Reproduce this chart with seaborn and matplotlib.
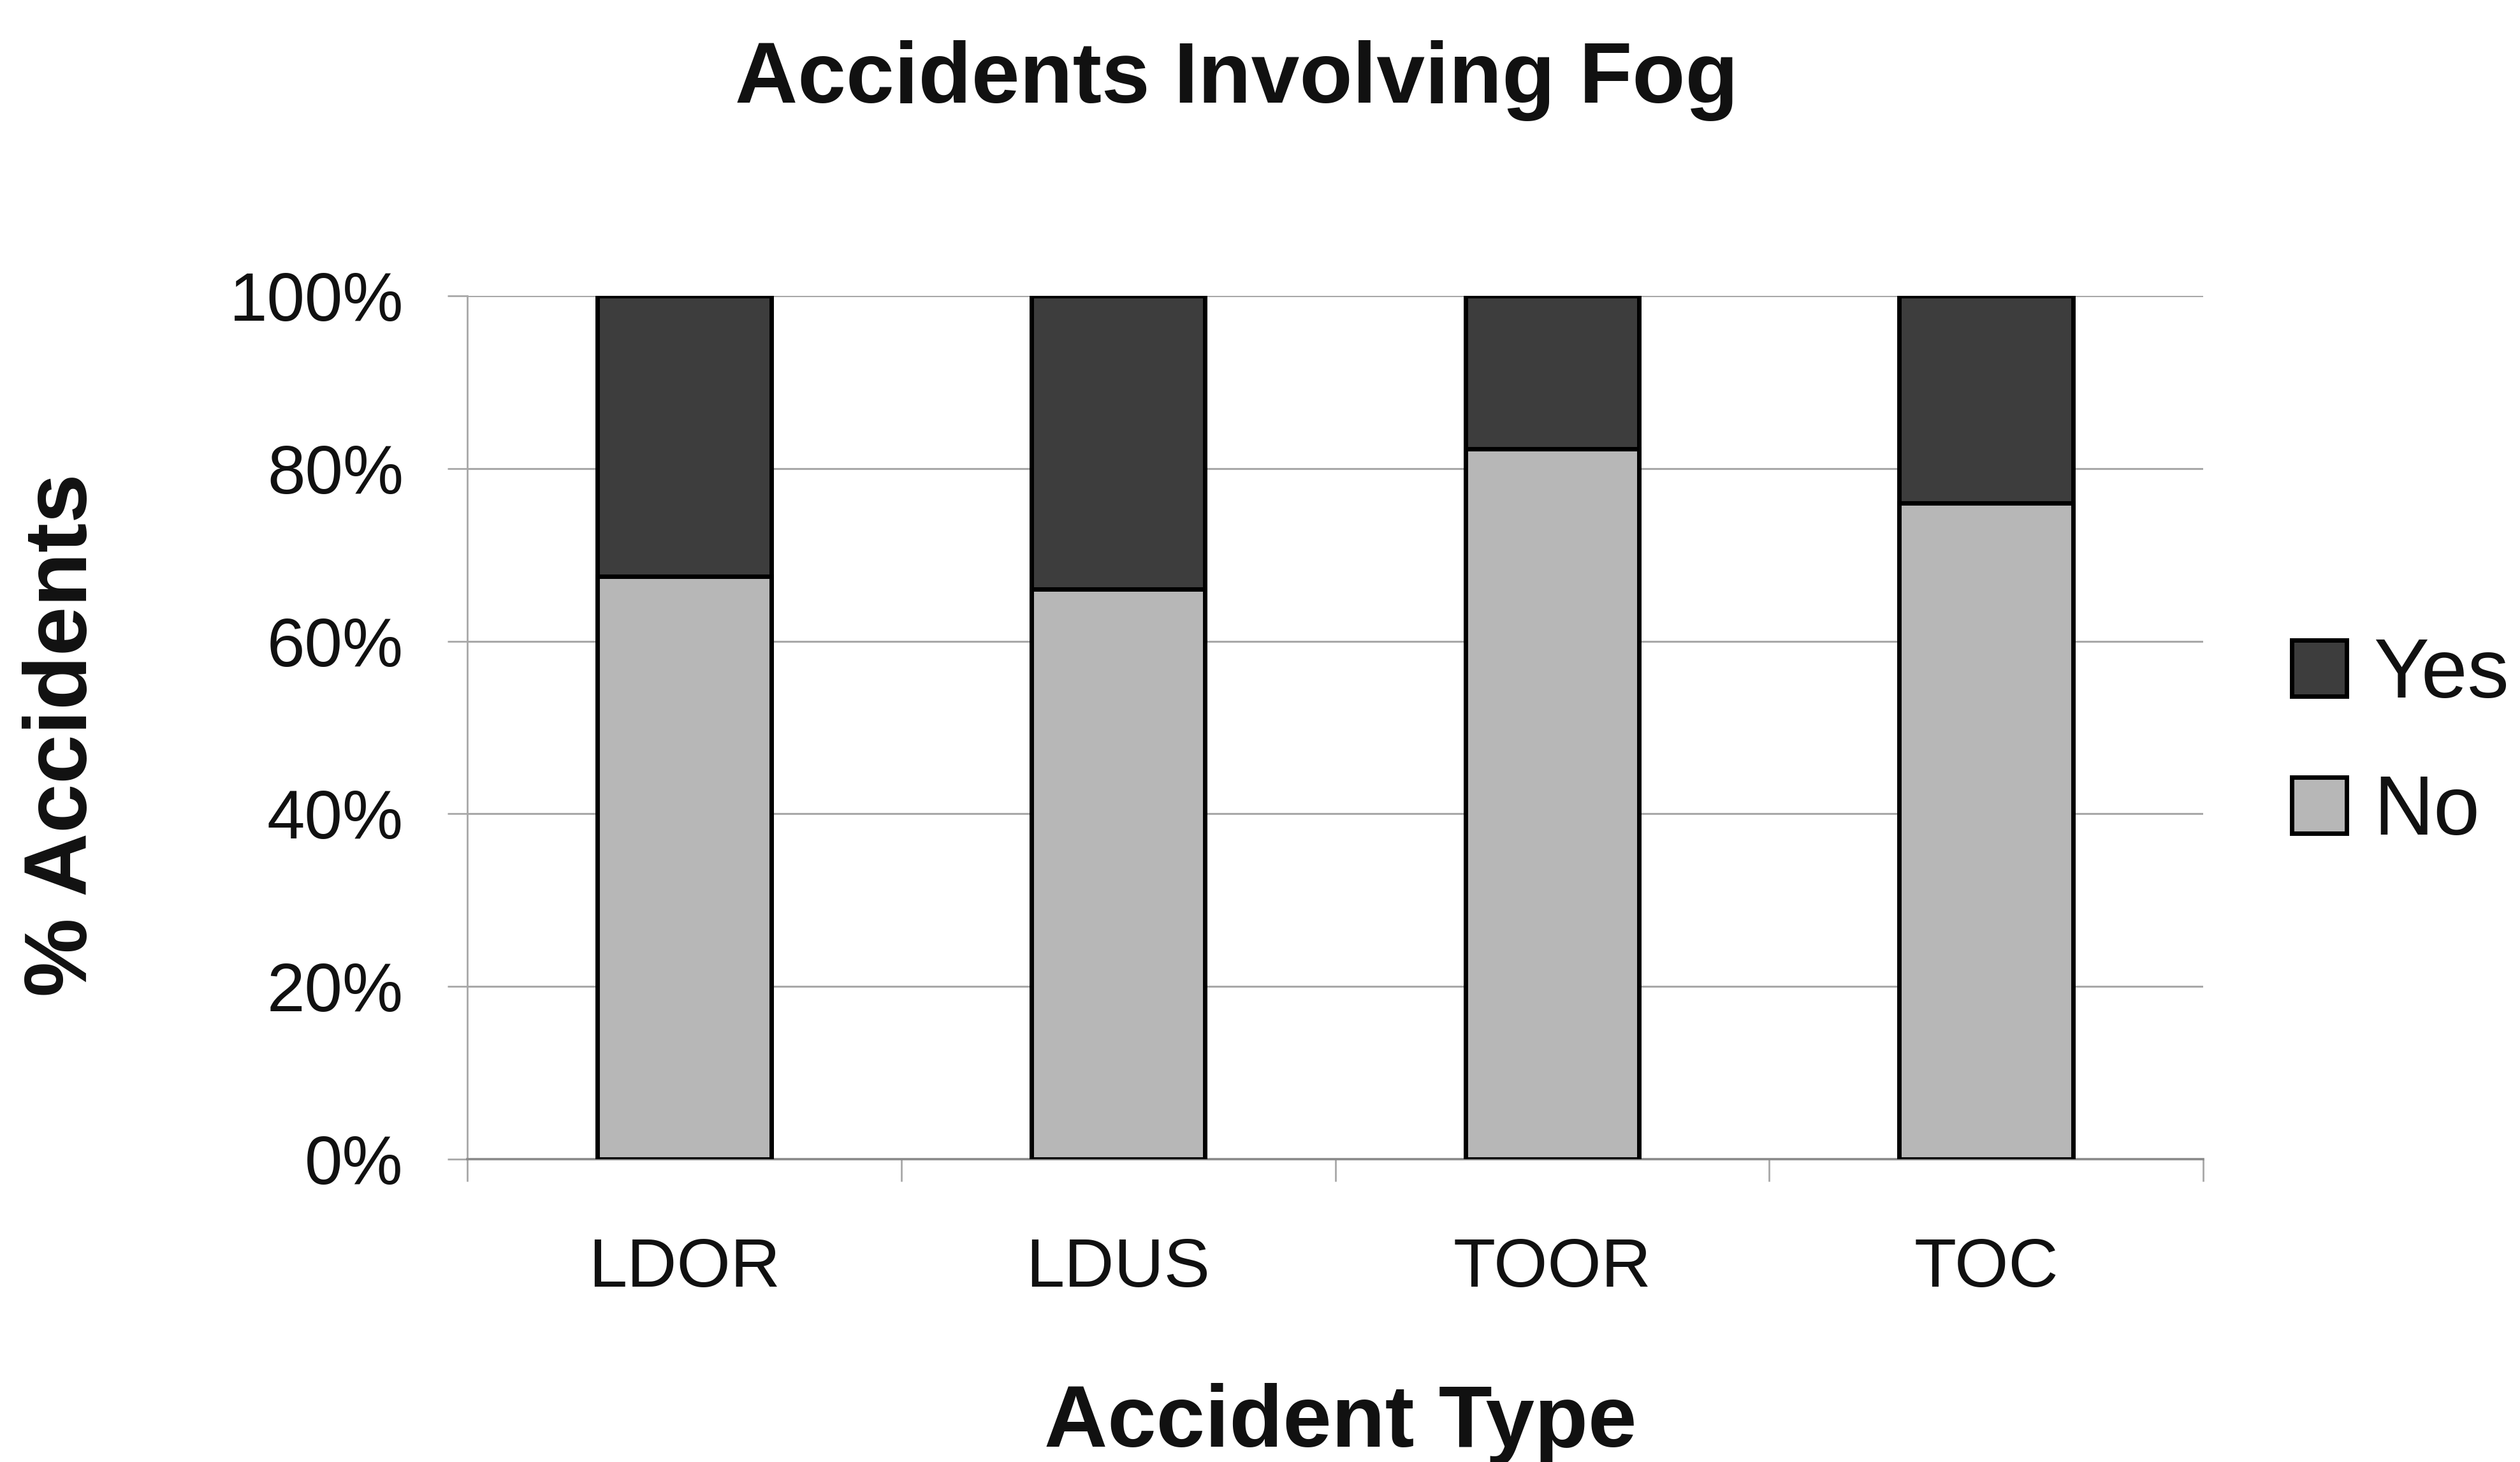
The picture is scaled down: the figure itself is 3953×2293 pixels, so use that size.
import matplotlib
matplotlib.use("Agg")
import matplotlib.pyplot as plt
from matplotlib.patches import Patch
from matplotlib.ticker import FixedLocator
import seaborn as sns

# Share of accidents by type, split by whether fog was involved (percent)
categories = ["LDOR", "LDUS", "TOOR", "TOC"]
no_pct = [67.5, 66.0, 82.3, 76.0]
yes_pct = [32.5, 34.0, 17.7, 24.0]
y_ticks = [0, 20, 40, 60, 80, 100]
y_tick_labels = ["0%", "20%", "40%", "60%", "80%", "100%"]
series_names = ["Yes", "No"]

yes_color = "#3d3d3d"
no_color = "#b7b7b7"
grid_color = "#a8a8a8"
edge_width = 5

sns.set_theme(style="white")
plt.rcParams["font.family"] = ["Liberation Sans", "DejaVu Sans"]

W, H = 3953, 2293
fig = plt.figure(figsize=(W / 100, H / 100), dpi=100)
ax = fig.add_axes([733 / W, 1 - 1818 / H, (3456 - 733) / W, (1818 - 464) / H])

totals = [n + y for n, y in zip(no_pct, yes_pct)]

# Full-height bar in the "Yes" colour, then the "No" share laid over it
sns.barplot(x=categories, y=totals, color=yes_color, width=0.4, saturation=1,
            edgecolor="black", linewidth=edge_width, errorbar=None, ax=ax, zorder=3)
sns.barplot(x=categories, y=no_pct, color=no_color, width=0.4, saturation=1,
            edgecolor="black", linewidth=edge_width, errorbar=None, ax=ax, zorder=4)

ax.set_xlim(-0.5, len(categories) - 0.5)
ax.set_ylim(0, 100)

ax.set_yticks(y_ticks)
ax.set_yticklabels(y_tick_labels, fontsize=77)
ax.yaxis.grid(True, color=grid_color, linewidth=2.2)
ax.set_axisbelow(True)
ax.tick_params(axis="y", direction="out", length=22, width=2, color=grid_color,
               pad=50, left=True, labelcolor="#111111")

ax.set_xticks(range(len(categories)))
ax.set_xticklabels(categories, fontsize=78)
ax.xaxis.set_minor_locator(FixedLocator([i - 0.5 for i in range(len(categories) + 1)]))
ax.tick_params(axis="x", which="major", length=0, pad=88, labelcolor="#111111")
ax.tick_params(axis="x", which="minor", direction="out", length=25, width=2,
               color=grid_color, bottom=True)

for side in ("top", "right"):
    ax.spines[side].set_visible(False)
ax.spines["left"].set_color(grid_color)
ax.spines["left"].set_linewidth(2)
ax.spines["bottom"].set_color("#8a8a8a")
ax.spines["bottom"].set_linewidth(2.6)

ax.set_xlabel("Accident Type", fontsize=99, fontweight="bold", color="#111111")
ax.xaxis.set_label_coords(2103 / W, 1 - 2269 / H, transform=fig.transFigure)
ax.xaxis.label.set_va("baseline")

ax.set_ylabel("% Accidents", fontsize=100, fontweight="bold", color="#111111")
ax.yaxis.set_label_coords(100 / W, 1 - 1153 / H, transform=fig.transFigure)
ax.yaxis.label.set_va("center")

fig.text(1940 / W, 1 - 161 / H, "Accidents Involving Fog", fontsize=98,
         fontweight="bold", ha="center", va="baseline", color="#111111")

handles = [Patch(facecolor=yes_color, edgecolor="black", linewidth=edge_width),
           Patch(facecolor=no_color, edgecolor="black", linewidth=edge_width)]
leg = fig.legend(handles, series_names, loc="center left",
                 bbox_to_anchor=(3595 / W, 1 - 1167 / H),
                 frameon=False, fontsize=94, handlelength=0.66, handleheight=0.66,
                 handletextpad=0.32, labelspacing=0.7, borderpad=0, borderaxespad=0)
for t in leg.get_texts():
    t.set_color("#111111")

fig.savefig("out.png", dpi=100, facecolor="white")
